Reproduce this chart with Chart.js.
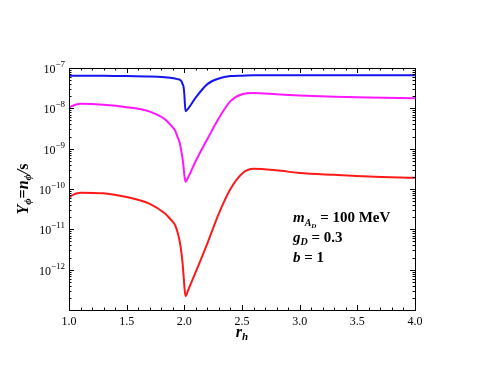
<!DOCTYPE html>
<html>
<head>
<meta charset="utf-8">
<script src="https://cdn.jsdelivr.net/npm/chart.js@4"></script>
<style>
  html, body { margin: 0; padding: 0; background: #fff; }
  #wrap { width: 485px; height: 381px; }
</style>
</head>
<body>
<div id="wrap"><canvas id="yieldChart" width="485" height="381"></canvas></div>
<script>
// r_h sample points
const R_H = [1.0, 1.02, 1.1, 1.3, 1.5, 1.7, 1.83, 1.88, 1.92, 1.94, 1.96, 1.975, 1.985, 1.995, 2.0, 2.01, 2.035, 2.1, 2.2, 2.3, 2.4, 2.5, 2.6, 2.8, 3.0, 3.3, 3.6, 4.0];

// Y_phi for each curve
const Y_BLUE = [6.46e-8, 6.46e-8, 6.46e-8, 6.46e-8, 6.3e-8, 6.17e-8, 5.9e-8, 5.7e-8, 5.5e-8, 5.3e-8, 5.13e-8, 4.7e-8, 3.98e-8, 3.16e-8, 2.24e-8, 8.5e-9, 1.0e-8, 1.86e-8, 3.98e-8, 5.5e-8, 6.3e-8, 6.46e-8, 6.6e-8, 6.6e-8, 6.6e-8, 6.6e-8, 6.6e-8, 6.6e-8];
const Y_MAGENTA = [1.05e-8, 1.12e-8, 1.29e-8, 1.23e-8, 1.07e-8, 8.3e-9, 5.4e-9, 3.9e-9, 2.8e-9, 2.0e-9, 1.41e-9, 8.3e-10, 5.6e-10, 3.16e-10, 2.24e-10, 1.51e-10, 2.0e-10, 5.0e-10, 1.74e-9, 5.75e-9, 1.51e-8, 2.24e-8, 2.4e-8, 2.24e-8, 2.09e-8, 1.95e-8, 1.86e-8, 1.78e-8];
const Y_RED = [6.0e-11, 6.8e-11, 8.1e-11, 7.8e-11, 6.3e-11, 4.3e-11, 2.5e-11, 1.78e-11, 1.26e-11, 8.7e-12, 5.0e-12, 2.6e-12, 1.41e-12, 6.3e-13, 4.0e-13, 2.2e-13, 3.2e-13, 8.9e-13, 4.5e-12, 2.5e-11, 1.0e-10, 2.4e-10, 3.16e-10, 2.9e-10, 2.5e-10, 2.24e-10, 2.04e-10, 1.9e-10];

// axis ticks
const X_TICKS = [1.0, 1.5, 2.0, 2.5, 3.0, 3.5, 4.0];
const X_MINOR_STEP = 0.1;
const Y_TICK_POWERS = [-12, -11, -10, -9, -8, -7];
const Y_MIN_POWER = -13;
const Y_MAX_POWER = -7;

const NOTE_LINES = [
  [["m", 15, 0, "bold italic"], ["A", 10, 4, "bold italic"], ["D", 7, 6, "bold italic"], [" = 100 MeV", 15, 0, "bold"]],
  [["g", 15, 0, "bold italic"], ["D", 10, 3, "bold italic"], [" = 0.3", 15, 0, "bold"]],
  [["b", 15, 0, "bold italic"], [" = 1", 15, 0, "bold"]],
];

const SERIF = "'Liberation Serif', 'DejaVu Serif', serif";

function toPoints(ys) {
  return R_H.map((x, i) => ({ x: x, y: ys[i] }));
}

// draw a run of [text, size, dy, style] pieces left to right
function drawRuns(ctx, runs, x, y) {
  let cx = x;
  runs.forEach(([txt, size, dy, style]) => {
    ctx.font = `${style} ${size}px ${SERIF}`;
    ctx.fillText(txt, cx, y + dy);
    cx += ctx.measureText(txt).width;
  });
  return cx - x;
}

function runsWidth(ctx, runs) {
  let w = 0;
  runs.forEach(([txt, size, dy, style]) => {
    ctx.font = `${style} ${size}px ${SERIF}`;
    w += ctx.measureText(txt).width;
  });
  return w;
}

const framePlugin = {
  id: "frame",
  afterDraw(chart) {
    const ctx = chart.ctx;
    const xs = chart.scales.x;
    const ys = chart.scales.y;
    const a = chart.chartArea;
    ctx.save();
    ctx.strokeStyle = "#000";
    ctx.fillStyle = "#000";
    ctx.lineWidth = 1;

    // frame
    ctx.strokeRect(Math.round(a.left) + 0.5, Math.round(a.top) + 0.5, Math.round(a.right - a.left), Math.round(a.bottom - a.top));

    ctx.beginPath();
    // x ticks, major + minor, bottom and top
    for (let v = 1.0; v <= 4.0001; v += X_MINOR_STEP) {
      const px = Math.round(xs.getPixelForValue(v)) + 0.5;
      const major = X_TICKS.some((t) => Math.abs(t - v) < 1e-6);
      const len = major ? 5 : 2.5;
      ctx.moveTo(px, a.bottom);
      ctx.lineTo(px, a.bottom - len);
      ctx.moveTo(px, a.top);
      ctx.lineTo(px, a.top + len);
    }
    // y ticks, decades + minor
    for (let p = Y_MIN_POWER; p <= Y_MAX_POWER; p++) {
      for (let m = 1; m <= 9; m++) {
        if (p === Y_MAX_POWER && m > 1) break;
        const py = Math.round(ys.getPixelForValue(m * Math.pow(10, p))) + 0.5;
        const len = m === 1 ? 5 : 2.5;
        ctx.moveTo(a.left, py);
        ctx.lineTo(a.left + len, py);
        ctx.moveTo(a.right, py);
        ctx.lineTo(a.right - len, py);
      }
    }
    ctx.stroke();

    // x tick labels
    ctx.font = `12px ${SERIF}`;
    ctx.textAlign = "center";
    ctx.textBaseline = "alphabetic";
    X_TICKS.forEach((t) => {
      ctx.fillText(t.toFixed(1), xs.getPixelForValue(t), a.bottom + 15);
    });

    // y tick labels, 10^p
    ctx.textAlign = "left";
    Y_TICK_POWERS.forEach((p) => {
      const py = ys.getPixelForValue(Math.pow(10, p));
      const runs = [["10", 12, 5, ""], ["\u2212" + Math.abs(p), 9, -1, ""]];
      const w = runsWidth(ctx, runs);
      drawRuns(ctx, runs, a.left - 4 - w, py);
    });

    // x title r_h
    const xt = [["r", 16, 0, "bold italic"], ["h", 11, 3, "bold italic"]];
    drawRuns(ctx, xt, (a.left + a.right) / 2 - runsWidth(ctx, xt) / 2, a.bottom + 26.5);

    // y title Y_phi = n_phi / s, rotated
    const yt = [["Y", 16, 0, "bold italic"], ["\u03d5", 11, 3, "bold italic"], ["=", 16, 0, "bold"], ["n", 16, 0, "bold italic"], ["\u03d5", 11, 3, "bold italic"], ["/", 16, 0, "bold italic"], ["s", 16, 0, "bold"]];
    ctx.save();
    ctx.translate(28, (a.top + a.bottom) / 2);
    ctx.rotate(-Math.PI / 2);
    drawRuns(ctx, yt, -runsWidth(ctx, yt) / 2, 0);
    ctx.restore();

    // parameter note
    NOTE_LINES.forEach((runs, i) => {
      drawRuns(ctx, runs, 293, 222 + i * 20);
    });

    ctx.restore();
  },
};

function lineSet(label, ys, color) {
  return {
    label: label,
    data: toPoints(ys),
    borderColor: color,
    borderWidth: 2,
    pointRadius: 0,
    fill: false,
    cubicInterpolationMode: "monotone",
  };
}

new Chart(document.getElementById("yieldChart"), {
  type: "line",
  data: {
    datasets: [
      lineSet("blue", Y_BLUE, "#1515f0"),
      lineSet("magenta", Y_MAGENTA, "#ff17ff"),
      lineSet("red", Y_RED, "#ff1a1a"),
    ],
  },
  options: {
    responsive: false,
    animation: false,
    events: [],
    layout: { padding: { left: 69, right: 70, top: 68, bottom: 71 } },
    plugins: { legend: { display: false }, tooltip: { enabled: false } },
    scales: {
      x: { type: "linear", min: 1, max: 4, display: false },
      y: { type: "logarithmic", min: Math.pow(10, Y_MIN_POWER), max: Math.pow(10, Y_MAX_POWER), display: false },
    },
  },
  plugins: [framePlugin],
});
</script>
</body>
</html>
